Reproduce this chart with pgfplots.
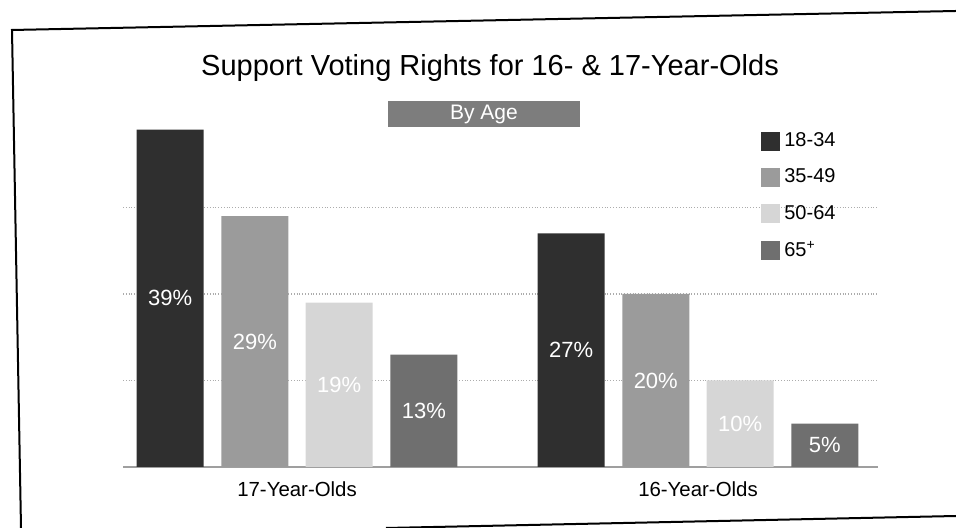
\documentclass[border=0pt]{standalone}
\usepackage{pgfplots}
\pgfplotsset{compat=1.18}
\usepackage{fontspec}
\setmainfont{Liberation Sans}
\definecolor{cA}{HTML}{2F2F2F}
\definecolor{cB}{HTML}{9B9B9B}
\definecolor{cC}{HTML}{D6D6D6}
\definecolor{cD}{HTML}{6F6F6F}
\definecolor{cBox}{HTML}{7D7D7D}
\begin{document}
\begin{tikzpicture}
\useasboundingbox (0pt,0pt) rectangle (478pt,264pt);
% frame (scanned page border)
\draw[line width=1pt] (10.5pt,0pt) -- (6pt,249pt) -- (478pt,258.5pt);
\draw[line width=1pt] (193pt,0pt) -- (478pt,6pt);
% title and subtitle
\node[font=\fontsize{14.5}{17}\selectfont] at (245pt,230pt) {Support Voting Rights for 16- \& 17-Year-Olds};
\node[fill=cBox, minimum width=96pt, minimum height=13pt, inner sep=0pt, text=white, font=\fontsize{10.5}{12}\selectfont] at (242pt,207pt) {By Age};
\begin{axis}[
  at={(61.5pt,30.5pt)}, anchor=south west,
  scale only axis, width=377.5pt, height=173pt,
  ybar, bar width=33.5pt,
  xmin=-0.434, xmax=1.449, ymin=0, ymax=40,
  xtick={0,1}, xticklabels={17-Year-Olds,16-Year-Olds},
  ytick={10,20,30}, yticklabels={},
  major tick length=0pt,
  ymajorgrids, grid style={gray!65, densely dotted, line width=0.7pt},
  axis lines*=left,
  y axis line style={draw=none},
  x axis line style={gray!75, line width=1.3pt, -},
  xticklabel style={font=\fontsize{10.2}{12}\selectfont, yshift=-4pt},
  /pgf/number format/assume math mode=true,
  nodes near coords={\pgfmathprintnumber{\pgfplotspointmeta}\%},
  visualization depends on={y \as \rawy},
  every node near coord/.append style={anchor=center, text=white,
    font=\fontsize{11}{13}\selectfont,
    shift={(axis direction cs:0,-\rawy/2)}},
  legend image code/.code={\fill[#1] (0pt,-4.75pt) rectangle (9.5pt,4.75pt);},
  legend cell align=left,
  legend style={draw=none, fill=none, at={(0.837,0.99)}, anchor=north west,
    font=\fontsize{10}{12}\selectfont, row sep=5.6pt,
    nodes={inner sep=2pt}},
]
\addplot[fill=cA, draw=none, bar shift=-63.4pt] coordinates {(0,39) (1,27)};
\addplot[fill=cB, draw=none, bar shift=-21.1pt] coordinates {(0,29) (1,20)};
\addplot[fill=cC, draw=none, bar shift=21.1pt] coordinates {(0,19) (1,10)};
\addplot[fill=cD, draw=none, bar shift=63.4pt] coordinates {(0,13) (1,5)};
\legend{18-34,35-49,50-64,65\textsuperscript{+}}
\end{axis}
\end{tikzpicture}
\end{document}
